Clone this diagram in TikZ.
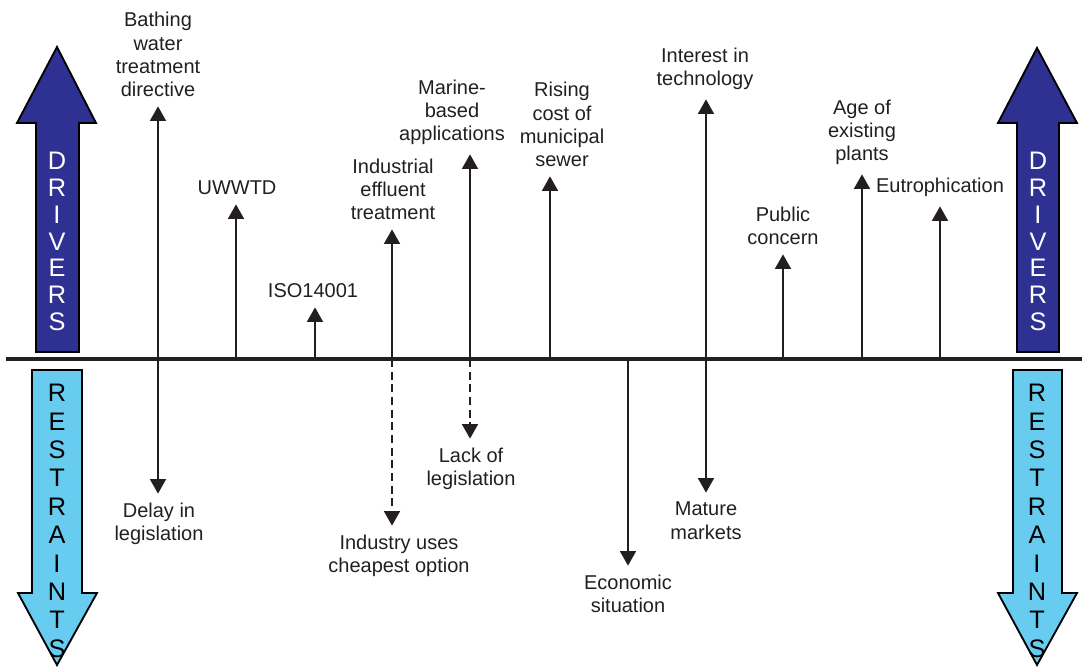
\documentclass[tikz,border=0pt]{standalone}
\usepackage{fontspec}
\setmainfont{Liberation Sans}
\usepackage{xcolor}
\usepackage{tikz}
\usetikzlibrary{arrows.meta,positioning,calc}
\definecolor{drvblue}{RGB}{46,49,146}
\definecolor{rstcyan}{RGB}{104,204,240}
\definecolor{txtgrey}{RGB}{35,31,32}

\begin{document}
\begin{tikzpicture}[x=0.75pt, y=-0.75pt, every node/.style={font=\fontsize{15}{17.5}\selectfont, text=txtgrey}]
  \tikzset{
    lbl/.style={align=center, inner sep=0pt, outer sep=0pt},
    drv/.style={-{Triangle[width=12pt,length=11pt]}, line width=1.5pt, draw=txtgrey, shorten >=7pt},
    dbl/.style={drv, {Triangle[width=12pt,length=11pt]}-{Triangle[width=12pt,length=11pt]}, shorten <=7pt},
    drvdash/.style={drv, dash pattern=on 6pt off 3.5pt},
    axis/.style={line width=2.5pt, draw=txtgrey},
    bigup/.style={draw=black, line width=1.4pt, fill=drvblue},
    bigdown/.style={draw=black, line width=1.4pt, fill=rstcyan},
    bigletter/.style={font=\fontsize{19}{22}\selectfont, inner sep=0pt}
  }
  \useasboundingbox (0,0) rectangle (1082,670);

  % big side arrows
  \draw[bigup] (36,352) -- (36,123) -- (17,123) -- (57,47) -- (96,123) -- (79,123) -- (79,352) -- cycle;
  \draw[bigdown] (32,370) -- (82,370) -- (82,593) -- (97,593) -- (57,665) -- (18,593) -- (32,593) -- cycle;
  \draw[bigup] (1017,352) -- (1017,123) -- (998,123) -- (1037,48) -- (1077,123) -- (1059,123) -- (1059,352) -- cycle;
  \draw[bigdown] (1013,370) -- (1062,370) -- (1062,593) -- (1077,593) -- (1037,665) -- (998,593) -- (1013,593) -- cycle;

  \foreach \l [count=\i from 0] in {D,R,I,V,E,R,S} {
    \node[bigletter, text=white] (dl\i) at ({57},{161+26.8*\i}) {\l};
    \node[bigletter, text=white] (dr\i) at ({1038},{161+26.8*\i}) {\l};
  }
  \foreach \l [count=\i from 0] in {R,E,S,T,R,A,I,N,T,S} {
    \node[bigletter, text=black] (rl\i) at ({57},{393+28.4*\i}) {\l};
    \node[bigletter, text=black] (rr\i) at ({1037},{393+28.4*\i}) {\l};
  }

  % axis
  \coordinate (axl) at (6,359);
  \coordinate (axr) at (1082,359);
  \draw[axis] (axl) -- (axr);

  % points on the axis
  \coordinate (a1) at (158,359);
  \coordinate (a2) at (236,359);
  \coordinate (a3) at (315,359);
  \coordinate (a4) at (392,359);
  \coordinate (a5) at (470,359);
  \coordinate (a6) at (550,359);
  \coordinate (a7) at (628,359);
  \coordinate (a8) at (706,359);
  \coordinate (a9) at (783,359);
  \coordinate (a10) at (862,359);
  \coordinate (a11) at (940,359);

  % labels
  \node[lbl, anchor=south] (bathing) at (158,97) {Bathing\\water\\treatment\\directive};
  \node[lbl, anchor=north] (delay) at (159,503) {Delay in\\legislation};
  \node[lbl, anchor=south] (uwwtd) at (237,195) {UWWTD};
  \node[lbl, anchor=south] (iso) at (313,298) {ISO14001};
  \node[lbl, anchor=south] (industrial) at (393,220) {Industrial\\effluent\\treatment};
  \node[lbl, anchor=north] (cheapest) at (399,535) {Industry uses\\cheapest option};
  \node[lbl, anchor=south] (marine) at (452,145) {Marine-\\based\\applications};
  \node[lbl, anchor=north] (lack) at (471,448) {Lack of\\legislation};
  \node[lbl, anchor=south] (rising) at (562,167) {Rising\\cost of\\municipal\\sewer};
  \node[lbl, anchor=north] (economic) at (628,575) {Economic\\situation};
  \node[lbl, anchor=south] (interest) at (705,90) {Interest in\\technology};
  \node[lbl, anchor=north] (mature) at (706,502) {Mature\\markets};
  \node[lbl, anchor=south] (public) at (783,245) {Public\\concern};
  \node[lbl, anchor=south] (age) at (862,165) {Age of\\existing\\plants};
  \node[lbl, anchor=south] (eutro) at (940,197) {Eutrophication};

  % arrows
  \draw[dbl] (a1 |- delay.north) -- (a1 |- bathing.south);
  \draw[drv] (a2) -- (a2 |- uwwtd.south);
  \draw[drv] (a3) -- (a3 |- iso.south);
  \draw[drv] (a4) -- (a4 |- industrial.south);
  \draw[drvdash] (a4) -- (a4 |- cheapest.north);
  \draw[drv] (a5) -- (a5 |- marine.south);
  \draw[drvdash] (a5) -- (a5 |- lack.north);
  \draw[drv] (a6) -- (a6 |- rising.south);
  \draw[drv] (a7) -- (a7 |- economic.north);
  \draw[dbl] (a8 |- mature.north) -- (a8 |- interest.south);
  \draw[drv] (a9) -- (a9 |- public.south);
  \draw[drv] (a10) -- (a10 |- age.south);
  \draw[drv] (a11) -- (a11 |- eutro.south);
\end{tikzpicture}
\end{document}
